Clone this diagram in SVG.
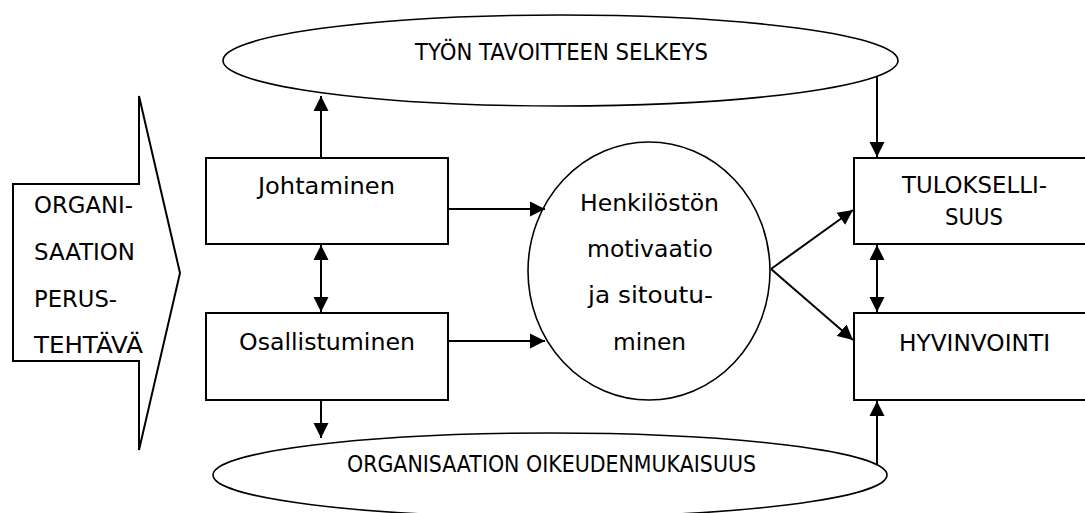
<svg xmlns="http://www.w3.org/2000/svg" width="1085" height="513" viewBox="0 0 1085 513">
<style>
.s{fill:#fff;stroke:#000;stroke-width:2}
.e{fill:#fff;stroke:#000;stroke-width:1.6}
.t{font-family:"DejaVu Sans",sans-serif;font-size:23px;fill:#000}
.m{text-anchor:middle}
.c line{stroke:#000;stroke-width:2;fill:none}
</style>
<defs>
<marker id="a" markerUnits="userSpaceOnUse" markerWidth="16" markerHeight="16" viewBox="0 0 16 16" refX="15" refY="8" orient="auto-start-reverse">
<path d="M0,0.5 L15,8 L0,15.5 Z" fill="#000"/>
</marker>
</defs>
<g id="tavoite">
<ellipse class="e" cx="560.5" cy="60.5" rx="337.5" ry="45.5"/>
<text class="t m" x="561.5" y="60" textLength="293" lengthAdjust="spacingAndGlyphs">TYÖN TAVOITTEEN SELKEYS</text>
</g>
<g id="oikeudenmukaisuus">
<ellipse class="e" cx="550" cy="475" rx="337" ry="42"/>
<text class="t m" x="551.5" y="472" textLength="409" lengthAdjust="spacingAndGlyphs">ORGANISAATION OIKEUDENMUKAISUUS</text>
</g>
<g id="perustehtava">
<polygon class="s" points="13,184 139,184 139,96 180,273 139,450 139,361 13,361"/>
<text class="t" x="34" y="213" textLength="99" lengthAdjust="spacingAndGlyphs">ORGANI-</text>
<text class="t" x="34" y="260" textLength="101" lengthAdjust="spacingAndGlyphs">SAATION</text>
<text class="t" x="34" y="307" textLength="83" lengthAdjust="spacingAndGlyphs">PERUS-</text>
<text class="t" x="34" y="353" textLength="109" lengthAdjust="spacingAndGlyphs">TEHTÄVÄ</text>
</g>
<g id="johtaminen">
<rect class="s" x="206" y="158" width="242" height="86"/>
<text class="t m" x="326.5" y="194" textLength="137" lengthAdjust="spacingAndGlyphs">Johtaminen</text>
</g>
<g id="osallistuminen">
<rect class="s" x="206" y="313" width="242" height="87"/>
<text class="t m" x="327" y="350" textLength="176" lengthAdjust="spacingAndGlyphs">Osallistuminen</text>
</g>
<g id="motivaatio">
<ellipse class="e" cx="649" cy="271" rx="121" ry="129"/>
<text class="t m" x="649.5" y="211" textLength="139" lengthAdjust="spacingAndGlyphs">Henkilöstön</text>
<text class="t m" x="650" y="257" textLength="126" lengthAdjust="spacingAndGlyphs">motivaatio</text>
<text class="t m" x="650.5" y="303" textLength="125" lengthAdjust="spacingAndGlyphs">ja sitoutu-</text>
<text class="t m" x="649.5" y="350" textLength="73" lengthAdjust="spacingAndGlyphs">minen</text>
</g>
<g id="tuloksellisuus">
<rect class="s" x="854" y="158" width="241" height="86"/>
<text class="t m" x="974.5" y="193" textLength="145" lengthAdjust="spacingAndGlyphs">TULOKSELLI-</text>
<text class="t m" x="974" y="225" textLength="58" lengthAdjust="spacingAndGlyphs">SUUS</text>
</g>
<g id="hyvinvointi">
<rect class="s" x="854" y="313" width="241" height="87"/>
<text class="t m" x="974.5" y="351" textLength="151" lengthAdjust="spacingAndGlyphs">HYVINVOINTI</text>
</g>
<g id="connectors" class="c">
<line x1="321" y1="158" x2="321" y2="96" marker-end="url(#a)"/>
<line x1="321" y1="245" x2="321" y2="312" marker-start="url(#a)" marker-end="url(#a)"/>
<line x1="321" y1="400" x2="321" y2="438" marker-end="url(#a)"/>
<line x1="448" y1="209" x2="545" y2="209" marker-end="url(#a)"/>
<line x1="448" y1="341" x2="545" y2="341" marker-end="url(#a)"/>
<line x1="877" y1="77" x2="877" y2="157" marker-end="url(#a)"/>
<line x1="877" y1="245" x2="877" y2="312" marker-start="url(#a)" marker-end="url(#a)"/>
<line x1="877" y1="465" x2="877" y2="401" marker-end="url(#a)"/>
<line x1="771" y1="269" x2="853" y2="210" marker-end="url(#a)"/>
<line x1="771" y1="269" x2="853" y2="340" marker-end="url(#a)"/>
</g>
</svg>
